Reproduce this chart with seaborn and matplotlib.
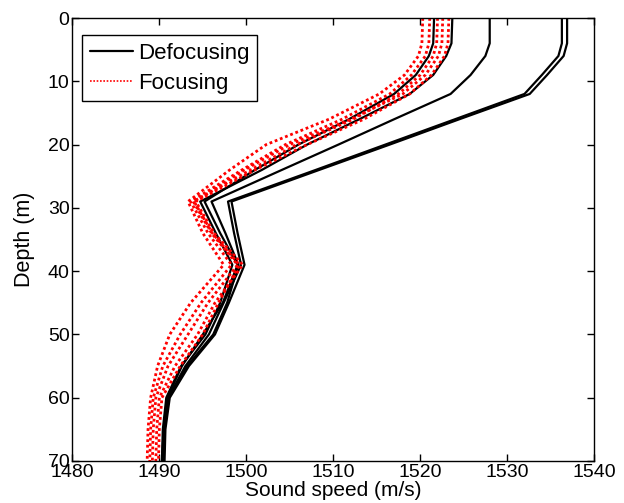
import numpy as np
import pandas as pd
import matplotlib
matplotlib.use('Agg')
import matplotlib.pyplot as plt
import seaborn as sns

# depth grid (m) shared by all profiles
depth = [0, 4, 6, 9, 12, 16, 20, 24, 29, 34, 39, 45, 50, 55, 60, 65, 70]

# Defocusing profiles (m/s)
defocus_1 = [1536.9, 1536.9, 1536.5, 1534.6, 1532.6, 1524.5, 1516.5, 1508.4, 1498.3,
             1499.0, 1499.8, 1498.0, 1496.4, 1493.4, 1491.2, 1490.7, 1490.6]
defocus_2 = [1536.3, 1536.3, 1535.9, 1534.0, 1532.0, 1524.0, 1516.0, 1508.0, 1497.9,
             1498.6, 1499.4, 1497.4, 1495.7, 1493.0, 1491.0, 1490.5, 1490.4]
defocus_3 = [1528.0, 1528.0, 1527.5, 1525.8, 1523.5, 1517.0, 1510.6, 1504.1, 1496.0,
             1497.6, 1499.1, 1497.8, 1496.2, 1493.2, 1491.1, 1490.6, 1490.5]
defocus_4 = [1523.7, 1523.6, 1523.0, 1521.5, 1518.8, 1513.0, 1507.0, 1501.8, 1494.7,
             1496.5, 1498.4, 1497.0, 1495.3, 1492.5, 1490.8, 1490.4, 1490.3]
defocus_5 = [1521.6, 1521.5, 1521.0, 1519.5, 1517.0, 1511.8, 1506.0, 1501.0, 1495.2,
             1497.0, 1499.0, 1497.3, 1495.0, 1492.6, 1490.9, 1490.5, 1490.3]

# Focusing profiles (m/s)
focus_1 = [1520.3, 1520.2, 1519.8, 1518.2, 1515.3, 1509.5, 1502.3, 1498.1, 1493.3,
           1495.0, 1497.4, 1493.6, 1491.2, 1489.8, 1489.0, 1488.7, 1488.6]
focus_2 = [1521.1, 1521.0, 1520.6, 1519.0, 1516.5, 1511.0, 1504.5, 1499.5, 1493.6,
           1495.6, 1498.3, 1494.8, 1492.4, 1490.4, 1489.3, 1489.0, 1488.9]
focus_3 = [1522.0, 1521.9, 1521.5, 1520.0, 1517.5, 1512.3, 1505.8, 1500.5, 1493.9,
           1496.0, 1499.0, 1495.6, 1493.3, 1491.0, 1489.6, 1489.3, 1489.2]
focus_4 = [1523.3, 1523.2, 1522.8, 1521.3, 1518.8, 1513.5, 1507.0, 1501.0, 1494.2,
           1496.3, 1499.6, 1496.4, 1494.4, 1491.8, 1490.0, 1489.7, 1489.6]
focus_5 = [1522.6, 1522.5, 1522.1, 1520.6, 1518.0, 1512.0, 1505.0, 1499.8, 1494.0,
           1496.1, 1499.2, 1496.8, 1495.0, 1492.4, 1490.3, 1490.0, 1489.9]

defocus = [defocus_1, defocus_2, defocus_3, defocus_4, defocus_5]
focus = [focus_1, focus_2, focus_3, focus_4, focus_5]

rows = []
for i, prof in enumerate(defocus):
    for d, c in zip(depth, prof):
        rows.append({'depth': d, 'speed': c, 'profile': f'D{i}', 'group': 'Defocusing'})
for i, prof in enumerate(focus):
    for d, c in zip(depth, prof):
        rows.append({'depth': d, 'speed': c, 'profile': f'F{i}', 'group': 'Focusing'})
df = pd.DataFrame(rows)

sns.set_style('ticks')
plt.rcParams['font.family'] = ['Liberation Sans', 'DejaVu Sans']
plt.rcParams['text.color'] = 'black'
plt.rcParams['axes.labelcolor'] = 'black'
plt.rcParams['xtick.color'] = 'black'
plt.rcParams['ytick.color'] = 'black'

fig = plt.figure(figsize=(6.24, 5.03), dpi=100)
ax = fig.add_axes([0.116, 0.0835, 0.836, 0.8807])

sns.lineplot(data=df, x='speed', y='depth', units='profile', hue='group',
             style='group', estimator=None, sort=False,
             hue_order=['Defocusing', 'Focusing'],
             palette={'Defocusing': 'black', 'Focusing': 'red'},
             dashes={'Defocusing': '', 'Focusing': (1, 1)},
             size='group', sizes={'Defocusing': 1.6, 'Focusing': 2.0},
             ax=ax)

ax.set_xlim(1480, 1540)
ax.set_ylim(70, 0)
ax.set_xticks(np.arange(1480, 1541, 10))
ax.set_yticks(np.arange(0, 71, 10))
ax.set_xlabel('Sound speed (m/s)', fontsize=15, labelpad=0)
ax.set_ylabel('Depth (m)', fontsize=15.5, labelpad=9)
ax.tick_params(direction='in', length=5, width=1, labelsize=14,
               top=True, right=True, colors='black', pad=2)
for s in ax.spines.values():
    s.set_visible(True)
    s.set_color('black')
    s.set_linewidth(1)

handles, labels = ax.get_legend_handles_labels()
keep = [(h, l) for h, l in zip(handles, labels) if l in ('Defocusing', 'Focusing')]
h_d = keep[0][0]
h_f = keep[1][0]
h_f.set_linewidth(1.2)
leg = ax.legend([h_d, h_f], ['Defocusing', 'Focusing'], loc='upper left',
                bbox_to_anchor=(0.019, 0.962), borderaxespad=0,
                fontsize=16, frameon=True, fancybox=False, framealpha=1,
                edgecolor='black', handlelength=1.95, handletextpad=0.2,
                borderpad=0.35, labelspacing=0.4)
leg.get_frame().set_linewidth(1)

fig.savefig('out.png', dpi=100)
